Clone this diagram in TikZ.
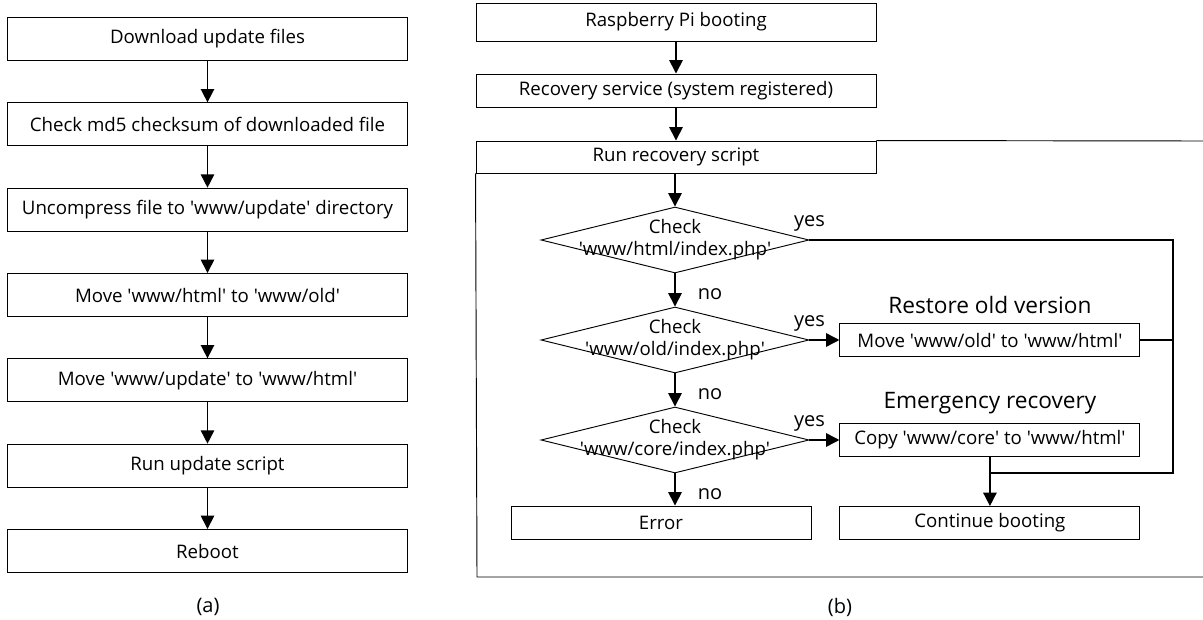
\documentclass[tikz,border=0pt]{standalone}
\usepackage{fontspec}
\setmainfont{Open Sans}
\usetikzlibrary{
  arrows.meta,
  positioning,
  shapes.geometric,
}
\newcommand{\sqt}[1]{\textquotesingle#1\textquotesingle}
\tikzstyle{box} = [
  rectangle,
  draw,
  line width=0.7pt,
  minimum width=300pt,
  minimum height=32.25pt,
  inner sep=0pt,
  font=\fontsize{14}{16}\selectfont,
]
\tikzstyle{smallbox} = [
  box,
  minimum width=225pt,
  minimum height=24.75pt,
]
\tikzstyle{decision} = [
  diamond,
  draw,
  line width=0.7pt,
  minimum width=201pt,
  minimum height=49.5pt,
  inner sep=0pt,
]
\tikzstyle{dtext} = [
  align=center,
  inner sep=0pt,
  font=\fontsize{14}{16.5}\selectfont,
]
\tikzstyle{note} = [
  inner sep=2pt,
  font=\fontsize{15}{17}\selectfont,
]
\tikzstyle{title} = [
  inner sep=2pt,
  font=\fontsize{17}{19}\selectfont,
]
\tikzstyle{line} = [
  line width=1.2pt,
]
\tikzstyle{arrow} = [
  line,
  -{Triangle[length=10pt,width=10pt]},
]

\begin{document}
\begin{tikzpicture}[x=0.75pt,y=-0.75pt,node distance=64pt]
			\useasboundingbox (0,0) rectangle (1203,620);

			% (a) update
			\node[box] (a1) at (207.5,39) {Download update files};
			\node[box] (a2) [below of=a1] {Check md5 checksum of downloaded file};
			\node[box] (a3) [below of=a2] {Uncompress file to \sqt{www/update} directory};
			\node[box] (a4) [below of=a3] {Move \sqt{www/html} to \sqt{www/old}};
			\node[box] (a5) [below of=a4] {Move \sqt{www/update} to \sqt{www/html}};
			\node[box] (a6) [below of=a5] {Run update script};
			\node[box] (a7) [below of=a6] {Reboot};
			\node[note] (capa) at (208,607) {(a)};

			\foreach \i/\j in {a1/a2,a2/a3,a3/a4,a4/a5,a5/a6,a6/a7}
				\draw[arrow] (\i) -- (\j);

			% (b) recovery
			\node[box,minimum height=28.5pt] (b1) at (676,22) {Raspberry Pi booting};
			\node[box,minimum height=24.75pt] (b2) at (676,90.5) {Recovery service (system registered)};
			\node[box,minimum height=24pt] (b3) at (676,157) {Run recovery script};
			\draw[line width=0.7pt] (b3.north east) -- (1203,141);
			\draw[line width=0.7pt] (b3.south west) -- (477,577) -- (1203,577);

			\node[decision] (c1) at (675,240) {};
			\node[decision] (c2) [below of=c1,node distance=75pt] {};
			\node[decision] (c3) [below of=c2,node distance=75pt] {};
			\node[dtext] (c1t) at (c1) {Check\\\sqt{www/html/index.php}};
			\node[dtext] (c2t) at (c2) {Check\\\sqt{www/old/index.php}};
			\node[dtext] (c3t) at (c3) {Check\\\sqt{www/core/index.php}};

			\node[smallbox] (r1) [right=22.5pt of c2] {Move \sqt{www/old} to \sqt{www/html}};
			\node[smallbox] (r2) [right=22.5pt of c3] {Copy \sqt{www/core} to \sqt{www/html}};
			\node[smallbox] (r3) [below of=r2,node distance=62.25pt] {Continue booting};
			\node[smallbox] (err) at (661,522.5) {Error};
			\node[title] (r1l) [above=4.5pt of r1] {Restore old version};
			\node[title] (r2l) [above=4.5pt of r2] {Emergency recovery};
			\node[note] (capb) at (840,607) {(b)};

			% yes / no
			\node[note] (y1) [above=4pt of c1.east] {yes};
			\node[note] (y2) [above=4pt of c2.east] {yes};
			\node[note] (y3) [above=4pt of c3.east] {yes};
			\node[note] (n1) [below right=9pt and 15pt of c1.south] {no};
			\node[note] (n2) [below right=9pt and 15pt of c2.south] {no};
			\node[note] (n3) [below right=9pt and 15pt of c3.south] {no};

			\coordinate (j1) at (1173,473);

			\draw[arrow] (b1) -- (b2);
			\draw[arrow] (b2) -- (b3);
			\draw[arrow] (b3.south -| c1) -- (c1);
			\draw[arrow] (c1) -- (c2);
			\draw[arrow] (c2) -- (c3);
			\draw[arrow] (c3.south) -- (c3.south |- err.north);
			\draw[arrow] (c2) -- (r1);
			\draw[arrow] (c3) -- (r2);
			\draw[line] (c1.east) -| (j1) -- (r2.south |- j1);
			\draw[line] (r1) -- (r1 -| j1);
			\draw[arrow] (r2) -- (r3);
      \end{tikzpicture}
\end{document}
